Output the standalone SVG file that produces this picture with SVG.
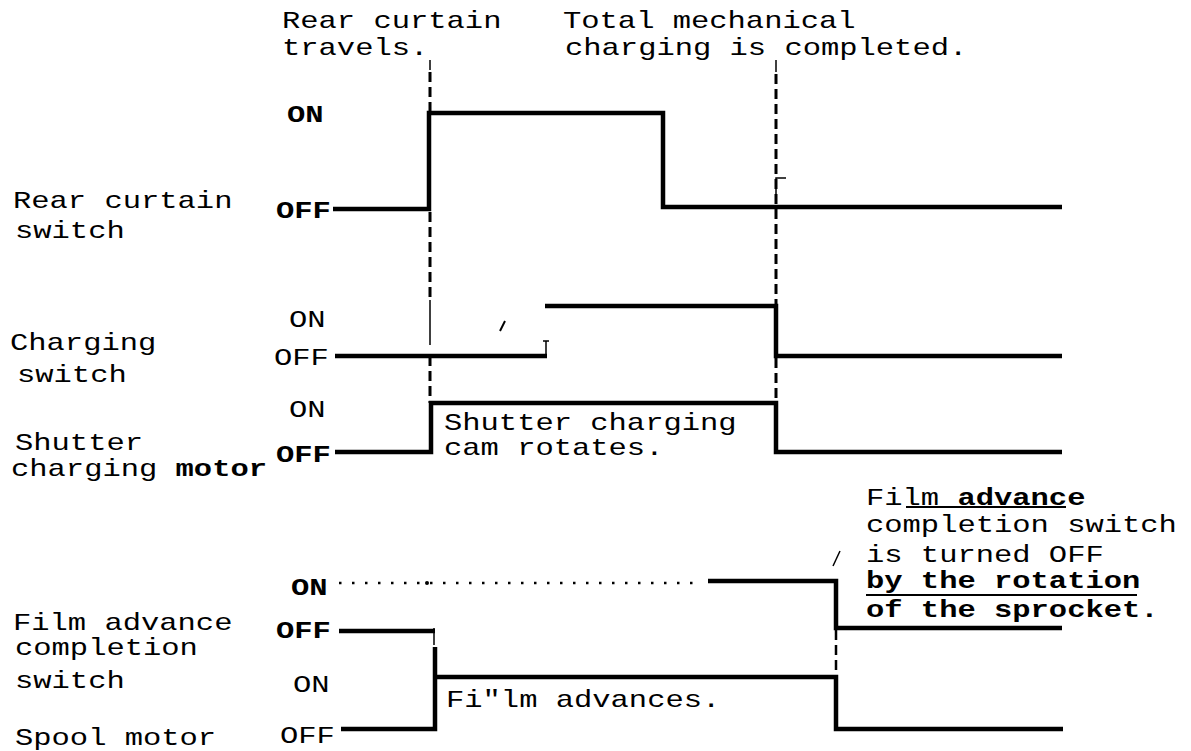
<svg xmlns="http://www.w3.org/2000/svg" width="1191" height="751" viewBox="0 0 1191 751">
<style>
.t{font-family:"Liberation Mono","DejaVu Sans Mono",monospace;font-size:24px;fill:#000}
.b{font-weight:bold}
.w{fill:none;stroke:#000;stroke-width:4.5;stroke-linecap:butt;stroke-linejoin:miter}
.thin{fill:none;stroke:#000;stroke-width:1.5}
.dash{fill:none;stroke:#000;stroke-width:3;stroke-dasharray:10 5}
.dot{fill:none;stroke:#000;stroke-width:2.5;stroke-dasharray:2.5 10.5}
.ul{stroke:#000;stroke-width:2}
</style>
<rect width="1191" height="751" fill="#fff"/>

<g id="connectors">
  <path class="thin" d="M430,60 V70"/>
  <path class="dash" d="M430,72 V113 M430,212 V300 M430,356 V403"/>
  <path class="thin" d="M430,300 V345"/>
  <path class="thin" d="M776,60 V72"/>
  <path class="dash" d="M776,74 V306 M776,358 V403"/>
  <path class="dash" d="M836,630 V677" style="stroke-width:2.5"/>
  <path class="thin" d="M776,200 V178 H786"/>
</g>

<g id="annot-rear-curtain-travels">
  <text class="t" transform="translate(282,28) scale(1.27,1)">Rear curtain</text>
  <text class="t" transform="translate(282,55) scale(1.27,1)">travels.</text>
</g>
<g id="annot-total-charging">
  <text class="t" transform="translate(563,28) scale(1.27,1)">Total mechanical</text>
  <text class="t" transform="translate(565,55) scale(1.27,1)">charging is completed.</text>
</g>

<g id="rear-curtain-switch">
  <text class="t" transform="translate(13,208) scale(1.27,1)">Rear curtain</text>
  <text class="t" transform="translate(15,238) scale(1.27,1)">switch</text>
  <text class="t b" transform="translate(287,122) scale(1.27,1)">ON</text>
  <text class="t b" transform="translate(276,218) scale(1.27,1)">OFF</text>
  <path class="w" d="M333,209 H429 V113 H663 V207 H1062"/>
</g>

<g id="charging-switch">
  <text class="t" transform="translate(10,350) scale(1.27,1)">Charging</text>
  <text class="t" transform="translate(17,382) scale(1.27,1)">switch</text>
  <text class="t" transform="translate(289,327) scale(1.27,1)">ON</text>
  <text class="t" transform="translate(274,365) scale(1.27,1)">OFF</text>
  <path class="w" d="M335,356 H547"/>
  <path class="thin" d="M546,341 V356 M543,341 H549"/>
  <path class="w" d="M545,306 H776 V356 H1062"/>
  <path class="thin" d="M505,321 L500,331" style="stroke-width:2"/>
</g>

<g id="shutter-charging-motor">
  <text class="t" transform="translate(15,450) scale(1.27,1)">Shutter</text>
  <text class="t" transform="translate(11,476) scale(1.27,1)">charging <tspan class="b">motor</tspan></text>
  <text class="t" transform="translate(289,417) scale(1.27,1)">ON</text>
  <text class="t b" transform="translate(276,462) scale(1.27,1)">OFF</text>
  <path class="w" d="M335,452 H431 V403 H776 V452 H1062"/>
  <text class="t" transform="translate(444,430) scale(1.27,1)">Shutter charging</text>
  <text class="t" transform="translate(444,455) scale(1.27,1)">cam rotates.</text>
</g>

<g id="annot-film-advance-off">
  <text class="t" transform="translate(866,505) scale(1.27,1)">Film <tspan class="b">advance</tspan></text>
  <line class="ul" x1="906" y1="507" x2="1066" y2="507"/>
  <text class="t" transform="translate(866,532) scale(1.27,1)">completion switch</text>
  <text class="t" transform="translate(866,562) scale(1.27,1)">is turned OFF</text>
  <text class="t b" transform="translate(866,588) scale(1.27,1)">by the rotation</text>
  <line class="ul" x1="866" y1="595" x2="1137" y2="595"/>
  <text class="t b" transform="translate(866,617) scale(1.27,1)">of the sprocket.</text>
  <path class="thin" d="M840,551 L833,566"/>
</g>

<g id="film-advance-completion-switch">
  <text class="t" transform="translate(13,630) scale(1.27,1)">Film advance</text>
  <text class="t" transform="translate(15,655) scale(1.27,1)">completion</text>
  <text class="t" transform="translate(15,688) scale(1.27,1)">switch</text>
  <text class="t b" transform="translate(291,595) scale(1.27,1)">ON</text>
  <text class="t b" transform="translate(276,638) scale(1.27,1)">OFF</text>
  <path class="dot" d="M339,583 H702"/>
  <circle cx="427" cy="583" r="2"/>
  <path class="w" d="M708,581 H836 V628 H1062"/>
  <path class="w" d="M339,631 H435"/>
  <path class="thin" d="M434,628 V645"/>
</g>

<g id="spool-motor">
  <text class="t" transform="translate(15,745) scale(1.27,1)">Spool motor</text>
  <text class="t" transform="translate(293,692) scale(1.27,1)">ON</text>
  <text class="t" transform="translate(280,743) scale(1.27,1)">OFF</text>
  <path class="w" d="M341,729 H435 V647 M435,677 H836 V729 H1063"/>
  <text class="t" transform="translate(446,707) scale(1.27,1)">Fi″lm advances.</text>
</g>
</svg>
